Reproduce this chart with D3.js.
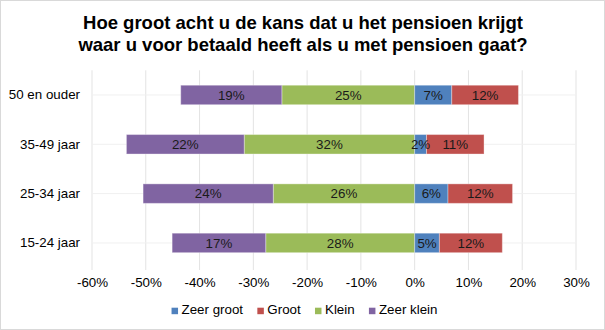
<!DOCTYPE html>
<html><head><meta charset="utf-8">
<script src="https://cdn.jsdelivr.net/npm/d3@7"></script>
<style>
html,body{margin:0;padding:0;background:#fff;}
svg{display:block;font-family:Arial,"Liberation Sans",sans-serif;}
</style></head>
<body>
<svg id="chart" width="605" height="330"></svg>
<script>
const categories = ["50 en ouder", "35-49 jaar", "25-34 jaar", "15-24 jaar"];
const zeerGroot = [6.9, 2.2, 6.2, 4.6];
const groot = [12.4, 10.7, 12.0, 11.7];
const klein = [24.7, 31.7, 26.3, 27.7];
const zeerKlein = [18.8, 21.9, 24.2, 17.4];
const xTicks = [-60, -50, -40, -30, -20, -10, 0, 10, 20, 30];
const seriesNames = ["Zeer groot", "Groot", "Klein", "Zeer klein"];
const colors = ["#4f81bd", "#c0504d", "#9bbb59", "#8064a2"];
const titleLines = ["Hoe groot acht u de kans dat u het pensioen krijgt", "waar u voor betaald heeft als u met pensioen gaat?"];

const FS = 13.33;
const svg = d3.select("#chart");
svg.append("rect").attr("x", 0.5).attr("y", 0.5).attr("width", 604).attr("height", 329)
  .attr("fill", "#fff").attr("stroke", "#d9d9d9");

const x = d3.scaleLinear().domain([-60, 30]).range([92, 576]);
const y = d3.scaleBand().domain(categories).range([70.3, 267.6]).paddingInner(0.605).paddingOuter(0.3025);

// title
svg.append("g").selectAll("text").data(titleLines).join("text")
  .attr("x", 303).attr("y", (d, i) => 29 + i * 21.5)
  .attr("text-anchor", "middle").attr("font-size", 18.5).attr("font-weight", "bold").attr("fill", "#000")
  .text(d => d);

// gridlines
svg.append("g").selectAll("line").data(xTicks).join("line")
  .attr("x1", d => x(d)).attr("x2", d => x(d)).attr("y1", 70.3).attr("y2", 270)
  .attr("stroke", "#e3e3e3").attr("stroke-width", 1);
svg.append("g").selectAll("line").data(categories).join("line")
  .attr("x1", x(-60)).attr("x2", x(30)).attr("y1", d => y(d) + y.bandwidth() / 2).attr("y2", d => y(d) + y.bandwidth() / 2)
  .attr("stroke", "#f0f0f0").attr("stroke-width", 1);

// x axis
const xAxis = d3.axisBottom(x).tickValues(xTicks).tickFormat(d => d + "%").tickSize(0).tickPadding(0);
const xg = svg.append("g").attr("transform", "translate(0,277.8)").call(xAxis);
xg.select(".domain").remove();
xg.selectAll("text").attr("font-size", FS).attr("fill", "#000").attr("font-family", "Arial, 'Liberation Sans', sans-serif");

// y axis
const yAxis = d3.axisLeft(y).tickSize(0).tickPadding(0);
const yg = svg.append("g").attr("transform", "translate(80,0)").call(yAxis);
yg.select(".domain").remove();
yg.selectAll("text").attr("font-size", FS).attr("fill", "#000").attr("font-family", "Arial, 'Liberation Sans', sans-serif");

// stacked segments
const segs = [];
categories.forEach((c, i) => {
  segs.push({c, s: 2, x0: -klein[i], x1: 0, v: klein[i]});
  segs.push({c, s: 3, x0: -klein[i] - zeerKlein[i], x1: -klein[i], v: zeerKlein[i]});
  segs.push({c, s: 0, x0: 0, x1: zeerGroot[i], v: zeerGroot[i]});
  segs.push({c, s: 1, x0: zeerGroot[i], x1: zeerGroot[i] + groot[i], v: groot[i]});
});
svg.append("g").selectAll("rect").data(segs).join("rect")
  .attr("x", d => x(d.x0)).attr("width", d => x(d.x1) - x(d.x0))
  .attr("y", d => y(d.c)).attr("height", y.bandwidth())
  .attr("fill", d => colors[d.s]).attr("stroke", "#fff").attr("stroke-opacity", 0.35).attr("stroke-width", 1);
svg.append("g").selectAll("text").data(segs).join("text")
  .attr("x", d => (x(d.x0) + x(d.x1)) / 2).attr("y", d => y(d.c) + y.bandwidth() / 2)
  .attr("dy", "0.36em").attr("text-anchor", "middle").attr("font-size", FS).attr("fill", "#1a1a1a")
  .text(d => Math.round(d.v) + "%");

// legend
const lg = svg.append("g");
const items = lg.selectAll("g").data(seriesNames).join("g");
items.append("rect").attr("width", 6.5).attr("height", 6.5).attr("y", -6.3).attr("fill", (d, i) => colors[i]);
items.append("text").attr("x", 10).attr("y", 0).attr("font-size", FS).attr("fill", "#000").text(d => d);
let pos = 0;
const gap = 14.3;
items.each(function() {
  const w = 10 + this.querySelector("text").getComputedTextLength();
  d3.select(this).attr("data-x", pos);
  pos += w + gap;
});
const total = pos - gap;
const startX = 304.5 - total / 2;
items.attr("transform", function() { return `translate(${startX + +this.getAttribute("data-x")},314)`; });
</script>
</body></html>
